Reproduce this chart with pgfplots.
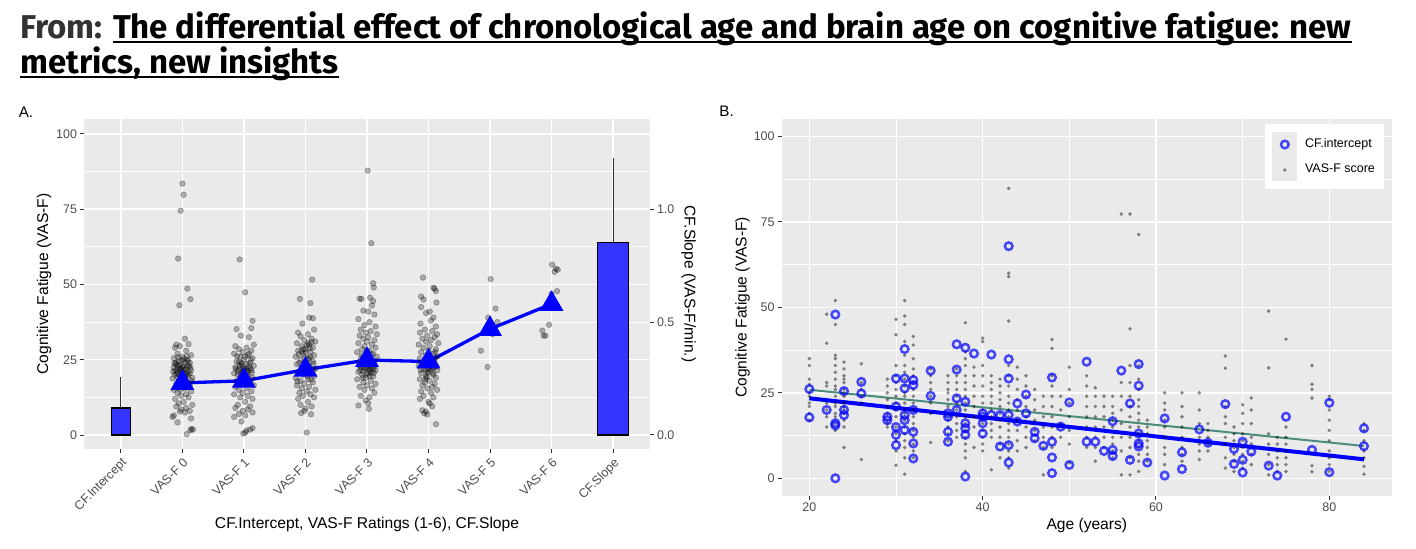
\documentclass[border=0pt]{standalone}
\usepackage{fontspec}
\setmainfont{Liberation Sans}
\newfontfamily\titlefont{Fira Sans}
\usepackage{pgfplots}
\pgfplotsset{compat=1.18}
\definecolor{panelbg}{HTML}{EAEAEA}
\definecolor{ticklab}{HTML}{4D4D4D}
\definecolor{tickcol}{HTML}{333333}
\definecolor{barblue}{HTML}{3535FF}
\definecolor{cfblue}{HTML}{0000FF}
\definecolor{tealline}{HTML}{4A8C80}
\definecolor{fromgray}{HTML}{333333}
\newsavebox\ulbox
\newcommand\ul[1]{\sbox\ulbox{#1}\rlap{\rule[-2.4pt]{\wd\ulbox}{1.2pt}}\usebox\ulbox}
\pgfplotsset{
  gg/.style={
    scale only axis, anchor=south west,
    axis background/.style={fill=panelbg},
    axis line style={draw=none},
    grid=both,
    major grid style={white, line width=0.75pt},
    minor grid style={white, line width=0.4pt},
    tick align=outside,
    major tick length=2pt,
    minor tick length=0pt,
    tick style={tickcol, line width=0.5pt},
    tick label style={font=\fontsize{6.25}{7}\selectfont, text=ticklab, inner sep=1.3pt},
    /pgf/number format/assume math mode=true,
    tick pos=left,
  },
  dotA/.style={only marks, mark=*, mark size=1.4pt, mark options={fill=black, fill opacity=0.28, draw=black, draw opacity=0.3, line width=0.3pt}},
  dotB/.style={only marks, mark=*, mark size=0.9pt, mark options={fill=black, fill opacity=0.45, draw=black, draw opacity=0.1, line width=0.2pt}},
}
\begin{document}
\begin{tikzpicture}
\useasboundingbox (0pt,0pt) rectangle (708pt,-274.5pt);
% title
\node[anchor=base west, inner sep=0pt, font=\titlefont\bfseries\fontsize{16.5}{18}\selectfont] at (10pt,-19.15pt)
  {\textcolor{fromgray}{From:} \ul{The differential effect of chronological age and brain age on cognitive fatigue: new}};
\node[anchor=base west, inner sep=0pt, font=\titlefont\bfseries\fontsize{16.5}{18}\selectfont] at (10pt,-36.6pt)
  {\ul{metrics, new insights}};
\node[anchor=base west, inner sep=0pt, font=\fontsize{7.6}{8}\selectfont] at (9.2pt,-58.6pt) {A.};
\node[anchor=base west, inner sep=0pt, font=\fontsize{7.6}{8}\selectfont] at (359.5pt,-58.3pt) {B.};

% ---------------- Panel A ----------------
\begin{axis}[gg, at={(42pt,-224.5pt)}, width=283pt, height=165pt,
  xmin=-0.6, xmax=8.6, ymin=-4.65, ymax=104.95,
  xtick={0,1,2,3,4,5,6,7,8},
  xticklabels={CF.Intercept,VAS-F 0,VAS-F 1,VAS-F 2,VAS-F 3,VAS-F 4,VAS-F 5,VAS-F 6,CF.Slope},
  minor xtick={},
  ytick={0,25,50,75,100}, minor ytick={12.5,37.5,62.5,87.5},
  xticklabel style={rotate=45, anchor=north east},
  ]
\addplot[ybar, bar width=0.3, bar shift=0pt, fill=barblue, draw=black, line width=0.6pt] coordinates {(0,9.0)};
\addplot[tickcol, line width=0.5pt] coordinates {(0,9.0)(0,19.1)};
% VAS-F 0
\addplot[dotA] coordinates {
(1.00,83.5)(1.02,79.8)(0.97,74.5)(0.93,58.6)(1.08,48.6)(1.13,45.1)(0.95,43.1)
(1.04,32)(0.90,30)(0.96,29.5)(1.10,30.2)(0.88,29)(1.06,28)(0.92,27)(1.14,26.5)(1.00,26)(0.86,25.5)(1.08,25)(0.94,24.5)(1.12,24)(0.90,23.5)(1.02,23)(0.86,22.5)(1.06,22)(0.96,21.8)(1.14,21.5)(0.92,21)(1.04,20.5)(0.88,20)(1.10,19.8)(0.98,19.5)(1.16,19)(0.84,18.8)(1.02,18.5)(0.94,18)(1.08,17.5)(0.90,17)(1.12,16.5)(0.96,16)(1.04,15.5)(0.86,15)(1.14,14.5)(0.92,14)(1.06,13.5)(0.98,13)(1.10,12.5)(0.88,12)(1.02,11)(0.94,10.5)(1.16,10)(0.90,9.5)(1.06,9)(0.98,8.5)(1.12,8)(0.96,7.8)(1.04,7.5)(0.86,6.5)(0.84,6)(1.14,5.5)(0.92,4.2)(1.15,2)(1.13,1.6)(1.17,1.8)(1.07,0.3)(0.92,22)(1.00,22.5)(1.08,21)(0.95,20)(1.03,19)(0.89,24)(1.11,23)(0.99,24.8)(0.93,25.8)(1.07,26.2)(1.01,17)(0.97,15)
(0.88,21.5)(1.12,20.5)(0.96,23.2)(1.04,24.2)(1.00,20.8)(0.92,19.2)(1.08,22.8)(0.98,21.2)(1.02,25.2)(0.94,16.8)
(0.87,23.8)(1.13,22.4)(0.91,20.4)(1.05,19.2)(0.97,22.2)(1.09,24.6)(0.85,21)(1.15,18)(0.99,18.2)(1.03,21.6)(0.93,23)(1.07,20)};
% VAS-F 1
\addplot[dotA] coordinates {
(1.93,58.3)(2.02,47.4)(2.14,37.9)(2.12,35.5)(1.88,35.2)(1.95,33)(2.08,32.5)(2.16,30)(1.86,29.5)(2.04,29)(1.92,28.5)(2.12,28)(1.98,27.5)(1.84,27)(2.06,26.5)(1.94,26)(2.14,25.5)(2.00,25)(1.88,24.5)(2.10,24)(1.96,23.5)(2.16,23)(1.86,22.5)(2.04,22)(1.92,21.8)(2.12,21.5)(1.98,21)(1.84,20.5)(2.06,20)(1.94,19.5)(2.14,19)(2.00,18.5)(1.88,18)(2.10,17.5)(1.96,17)(2.16,16.5)(1.86,16)(2.04,15.5)(1.92,15)(2.12,14.5)(1.98,14)(1.84,13.5)(2.06,13)(1.94,12.5)(2.14,12)(2.02,11)(1.90,10)(2.10,9.5)(1.86,9)(2.06,8.5)(1.98,8)(2.14,7.5)(1.92,7)(2.02,6.5)(1.84,6)(1.96,4.5)(2.14,2.3)(2.10,1.8)(2.04,1.5)(2.02,0.8)(1.99,0.5)(2.00,22)(2.08,23)(1.96,24)(2.04,21)(1.90,20)(2.02,26)(2.08,27)(1.98,19)
(1.90,21.2)(2.10,22.2)(1.96,20.6)(2.04,23.6)(2.00,21.6)(1.92,24.2)(2.06,19.4)(1.98,22.6)
(1.87,22)(2.13,20.8)(1.93,23)(2.07,21.4)(2.01,20.2)(1.95,18.8)(2.11,25)(1.89,26.2)};
% VAS-F 2
\addplot[dotA] coordinates {
(3.11,51.6)(2.91,45.2)(3.08,43.8)(3.06,39)(3.12,38.8)(2.95,37)(3.14,35)(2.88,34)(3.04,33.5)(2.92,32.8)(3.10,32)(2.98,31.5)(3.16,31)(2.86,30.5)(3.06,30)(2.94,29.5)(3.12,29)(3.00,28.5)(2.88,28)(3.08,27.5)(2.96,27)(3.14,26.5)(2.84,26)(3.04,25.5)(2.92,25)(3.12,24.5)(2.98,24)(2.86,23.5)(3.06,23)(2.94,22.5)(3.16,22)(3.00,21.5)(2.88,21)(3.10,20.5)(2.96,20)(3.14,19.5)(2.84,19)(3.04,18.5)(2.92,18)(3.12,17.5)(2.98,17)(2.86,16.5)(3.06,16)(2.94,15.5)(3.16,15)(3.02,14.5)(2.90,14)(3.08,13.5)(2.96,13)(3.14,12.5)(2.88,12)(3.04,11)(2.92,10)(3.10,9.5)(3.00,8.8)(2.93,7.3)(3.09,6.9)(2.98,8)(3.02,0.8)(3.00,27.5)(3.08,26)(2.96,28.5)(3.04,30.5)(2.90,24)
(3.02,29.8)(3.10,30.8)(2.94,27.8)(3.06,25.2)(2.98,22.8)(3.12,21.2)
(2.89,26.8)(3.07,28.8)(2.99,25.8)(3.13,23.6)(2.93,21.8)(3.03,19.6)(2.87,17.8)(3.09,18.4)};
% VAS-F 3
\addplot[dotA] coordinates {
(4.01,87.8)(4.07,63.7)(4.10,50.4)(4.11,49)(3.88,45.3)(3.91,45.2)(4.05,45.6)(4.10,44.5)(4.08,43)(3.94,41.3)(4.02,41)(4.12,40)(3.86,38.5)(4.04,37.5)(3.96,36.5)(4.14,36)(3.90,35)(4.06,34.5)(3.98,34)(4.16,33.5)(3.88,33)(4.02,32.5)(3.94,32)(4.12,31.5)(4.00,31)(3.86,30.5)(4.08,30)(3.96,29.5)(4.14,29)(3.92,28.5)(4.04,28)(3.84,27.5)(4.10,27)(3.98,26.5)(4.16,26)(3.90,25.5)(4.06,25)(3.94,24.5)(4.12,24)(4.00,23.5)(3.88,23)(4.08,22.5)(3.96,22)(4.14,21.5)(3.86,21)(4.02,20.5)(3.92,20)(4.10,19.5)(3.98,19)(3.84,18.5)(4.06,18)(3.94,17.5)(4.14,17)(4.00,16.5)(3.88,16)(4.08,15.5)(3.96,15)(4.12,14)(3.90,13)(4.04,12.5)(3.98,11.5)(4.02,10.5)(3.86,9.8)(4.03,8.7)(4.00,22.5)(3.96,23.5)(4.04,21.5)(4.08,24.5)(3.92,26.5)(4.00,28)
(3.94,21.2)(4.06,20.8)(3.98,22.2)(4.02,23.2)(3.90,22.6)(4.10,21.8)(4.00,20.2)(4.04,19.6)
(3.87,24.2)(4.13,23)(3.93,19)(4.07,26.8)(3.99,25.2)(4.11,20.6)(3.89,21.6)(4.05,22)};
% VAS-F 4
\addplot[dotA] coordinates {
(4.91,52.3)(5.08,48.9)(5.10,48.6)(5.12,47.8)(4.88,46)(4.92,45)(5.13,44)(4.88,42.5)(5.02,41)(4.96,40.5)(5.08,39)(5.04,38)(4.87,37)(5.12,36)(4.94,35)(5.06,34.5)(4.86,34)(5.14,33.5)(4.98,33)(5.10,32.5)(4.90,32)(5.04,31.5)(4.96,31)(5.16,30.5)(4.84,30)(5.02,29.5)(4.92,29)(5.12,28.5)(5.00,28)(4.88,27.5)(5.08,27)(4.96,26.5)(5.14,26)(4.86,25.5)(5.04,25)(4.94,24.5)(5.10,24)(4.98,23.5)(4.84,23)(5.06,22.5)(4.92,22)(5.14,21.5)(5.00,21)(4.88,20.5)(5.08,20)(4.96,19.5)(5.12,19)(4.86,18.5)(5.02,18)(4.94,17.5)(5.10,17)(4.90,16.5)(5.06,16)(4.98,15.5)(5.14,15)(4.88,14.5)(5.04,14)(4.92,13)(5.08,12.5)(4.86,12)(5.00,11)(5.02,10.5)(5.06,9.5)(4.90,8.2)(4.96,7.8)(4.93,7.2)(4.98,6.8)(5.12,3.6)(5.00,22)(4.96,21.5)(5.04,23)(5.00,24.5)
(4.92,23.6)(5.08,22.2)(4.98,20.6)(5.04,21.8)(4.94,24.8)(5.10,25.4)
(4.87,21.6)(5.13,22.8)(4.95,18.6)(5.07,20.4)(5.01,26.2)(4.89,24)(5.11,27.6)(4.97,19.2)};
% VAS-F 5
\addplot[dotA] coordinates {(6.01,51.8)(6.09,42)(5.97,39)(6.12,37.5)(5.96,35)(6.04,33.5)(5.85,28)(5.96,22.6)};
% VAS-F 6
\addplot[dotA] coordinates {(7.01,56.6)(7.07,55.2)(7.10,54.9)(7.05,54.2)(7.09,47.8)(7.00,46.9)(6.96,36.6)(6.85,34.7)(6.90,33)(6.87,33)};
% means
\addplot[cfblue, line width=1.65pt, mark=triangle*, mark size=5.2pt, mark options={solid, fill=cfblue, draw=none}]
  coordinates {(1,17.3)(2,18.0)(3,21.7)(4,24.9)(5,24.4)(6,35.2)(7,43.5)};
\end{axis}
% secondary axis (CF.Slope)
\begin{axis}[scale only axis, anchor=south west, at={(42pt,-224.5pt)}, width=283pt, height=165pt,
  xmin=-0.6, xmax=8.6, ymin=-0.062, ymax=1.39933,
  hide x axis, axis line style={draw=none},
  ytick={0,0.5,1}, yticklabels={0.0,0.5,1.0},
  ytick pos=right, yticklabel pos=right,
  tick align=outside, major tick length=2pt,
  tick style={tickcol, line width=0.5pt},
  tick label style={font=\fontsize{6.25}{7}\selectfont, text=ticklab, inner sep=1.3pt},
  /pgf/number format/assume math mode=true,
  ]
\addplot[ybar, bar width=0.5, bar shift=0pt, fill=barblue, draw=black, line width=0.6pt] coordinates {(8,0.853)};
\addplot[tickcol, line width=0.5pt] coordinates {(8,0.853)(8,1.227)};
\end{axis}
\node[rotate=90, font=\fontsize{7.8}{9}\selectfont] at (22pt,-142pt) {Cognitive Fatigue (VAS-F)};
\node[rotate=-90, font=\fontsize{7.8}{9}\selectfont] at (344.3pt,-142pt) {CF.Slope (VAS-F/min.)};
\node[font=\fontsize{7.8}{9}\selectfont] at (183.5pt,-262pt) {CF.Intercept, VAS-F Ratings (1-6), CF.Slope};

% ---------------- Panel B ----------------
\begin{axis}[gg, at={(390.8pt,-247.85pt)}, width=305.05pt, height=188.35pt,
  xmin=16.8, xmax=87.2, ymin=-5.09, ymax=105.1,
  xtick={20,40,60,80}, minor xtick={30,50,70},
  ytick={0,25,50,75,100}, minor ytick={12.5,37.5,62.5,87.5},
  legend style={at={(rel axis cs:0.8043,0.9663)}, anchor=north west, draw=none, fill=none,
    inner sep=0pt, outer sep=0pt, row sep=0pt,
    nodes={inner sep=0pt, font=\fontsize{6.25}{7}\selectfont},
    /tikz/every odd column/.append style={column sep=3.85pt}},
  legend cell align=left,
  legend image code/.code={\path[draw=none,fill=none] (0pt,-6.4pt) rectangle (12.5pt,6.4pt); \draw[#1] plot coordinates {(6.25pt,0pt)};},
  ]
% VAS-F score dots
\addplot[forget plot, dotB] coordinates {
(20,35)(20,33)(20,29)(20,27.5)(20,25)(20,24)(20,22)(20,21)(20,19)(20,17)
(22,48)(22,39.5)(22,28)(22,27)(22,22)(22,20)(22,18)(22,15)
(23,52)(23,45)(23,36)(23,35)(23,33)(23,31)(23,29)(23,27)(23,26)(23,24)(23,22)(23,21)(23,19)(23,18)(23,16)(23,14)
(24,34)(24,32)(24,30)(24,29)(24,28)(24,26)(24,25)(24,24)(24,22)(24,21)(24,20)(24,19)(24,17)(24,15)(24,9)
(26,33.5)(26,28)(26,26)(26,24)(26,22)(26,5.5)
(29,29)(29,27)(29,25)(29,23)(29,21)(29,19)(29,17)(29,16)(29,15)
(30,46.5)(30,42)(30,33)(30,30)(30,28)(30,26)(30,24)(30,22)(30,20)(30,18)(30,15)(30,13)(30,11)(30,8)(30,3.8)
(31,52)(31,47.5)(31,45)(31,40)(31,36)(31,33)(31,31)(31,29)(31,27)(31,25)(31,24)(31,22)(31,20)(31,19)(31,17)(31,15)(31,13)(31,11)(31,9)(31,6)(31,1.2)
(32,41.5)(32,39)(32,35)(32,32)(32,30)(32,28)(32,26)(32,24)(32,22)(32,20)(32,18)(32,16)(32,14)(32,12)(32,10)(32,8)(32,6)
(34,32)(34,30)(34,28)(34,26)(34,24)(34,22)(34,19)(34,10.5)
(36,30)(36,28)(36,26)(36,25)(36,23)(36,21)(36,19)(36,17)(36,15)(36,13)(36,11)
(37,32)(37,30)(37,28)(37,26)(37,24)(37,22)(37,20)(37,18)(37,16)(37,14)(37,12)
(38,45.5)(38,37)(38,35)(38,33)(38,30)(38,28)(38,26)(38,24)(38,22)(38,20)(38,18)(38,16)(38,14)(38,12)(38,10)(38,8)(38,6)(38,2)
(39,32.5)(39,30)(39,27)(39,24)(39,21)(39,18)(39,15)(39,9)
(40,41)(40,40)(40,33)(40,30)(40,27)(40,24)(40,22)(40,20)(40,18)(40,16)(40,14)(40,12)(40,10)(40,8)
(41,30)(41,28)(41,26)(41,24)(41,22)(41,20)(41,18)(41,16)(41,14)(41,12)(41,2.5)
(42,29)(42,27)(42,25)(42,23)(42,21)(42,19)(42,17)(42,15)(42,12)(42,10)(42,6)
(43,84.8)(43,60)(43,59)(43,46)(43,33)(43,30)(43,27)(43,24)(43,22)(43,20)(43,18)(43,16)(43,14)(43,12)(43,10)(43,8)(43,6)(43,3)
(44,32.5)(44,29)(44,26)(44,23)(44,20)(44,17)(44,14)(44,11)(44,8)
(45,30)(45,27)(45,24)(45,21)(45,18)(45,15)(45,12)(45,9)
(46,26)(46,23)(46,20)(46,17)(46,14)(46,11)
(47,24)(47,21)(47,18)(47,15)(47,12)(47,9)(47,1)
(48,40.6)(48,38)(48,30)(48,27)(48,24)(48,21)(48,18)(48,15)(48,12)(48,9)
(49,24)(49,20)(49,16)(49,12)
(50,32.5)(50,26)(50,22)(50,18)(50,14)(50,10)(50,4.5)
(52,30)(52,27)(52,24)(52,21)(52,18)(52,15)(52,12)(52,9)
(53,26.5)(53,24)(53,21)(53,18)(53,15)(53,12)(53,9)(53,5)
(54,24)(54,21)(54,18)(54,15)(54,12)(54,9)
(55,24)(55,21)(55,19)(55,17)(55,15)(55,12)(55,10)(55,8)(55,6)
(56,77.3)(56,28)(56,24)(56,20)(56,16)(56,12)(56,8)(56,1)
(57,77.3)(57,43.7)(57,33)(57,28)(57,24)(57,21)(57,18)(57,15)(57,12)(57,9)(57,6)(57,1)
(58,71.3)(58,33)(58,29)(58,26)(58,23)(58,21)(58,19)(58,17)(58,15)(58,13)(58,11)(58,9)(58,7)(58,5)(58,2)
(59,17)(59,15)(59,13)(59,11)(59,9)(59,7)(59,5)
(61,25)(61,22)(61,20)(61,17)(61,15)(61,12)(61,9)(61,7)(61,4)
(63,25)(63,21)(63,18)(63,15)(63,12)(63,9)(63,7)(63,5)
(65,25)(65,20)(65,16)(65,12)(65,10)(65,8)(65,5.5)
(66,16)(66,14)(66,12)(66,10)(66,8)
(68,35.8)(68,32.2)(68,21)(68,18)(68,16)(68,12)(68,10)(68,6)(68,3)
(69,15)(69,13)(69,11)(69,9)(69,7)(69,5)(69,2)
(70,21.5)(70,19)(70,16)(70,13)(70,11)(70,9)(70,7)(70,5)(70,3)
(71,23.5)(71,20)(71,16)(71,12)(71,10)(71,7)(71,4)
(73,48.9)(73,32.3)(73,13)(73,10)(73,7)(73,4)(73,1)
(74,12)(74,10)(74,8)(74,6)(74,4)(74,2)
(75,40.7)(75,15)(75,12)(75,10)(75,8)(75,6)(75,4)(75,2)
(78,33)(78,27.5)(78,26)(78,23.5)(78,3.7)(78,1.9)
(80,24)(80,23)(80,20)(80,17)(80,14)(80,11)(80,8)(80,6)(80,4)(80,2)
(84,16)(84,14)(84,11)(84,8)(84,6)(84,3.5)(84,1.2)};
% CF.intercept circles
\addplot[forget plot, only marks, mark=o, mark size=1.9pt, mark options={draw=cfblue, draw opacity=0.7, line width=1.25pt}] coordinates {
(20,26.1)(20,17.8)(22,20)(23,47.9)(23,0)(23,16.1)(23,15.5)(24,25.5)(24,20)(24,18.5)
(26,28.2)(26,24.8)(29,17)(29,18)(30,29.2)(30,21)(30,15)(30,12.7)(30,9.7)
(31,37.8)(31,29.2)(31,26.3)(31,18.5)(31,17)(31,14.1)
(32,28.7)(32,27.3)(32,20)(32,13.6)(32,10.2)(32,5.8)
(34,31.5)(34,24.1)(36,13.6)(36,10.7)(36,18)(36,19)
(37,39.2)(37,31.8)(37,23.4)(37,20)
(38,38.2)(38,22.4)(38,16.1)(38,14.6)(38,12.7)(38,0.5)
(39,36.5)(40,16.1)(40,18)(40,13.1)(40,19)(41,36.2)(41,18.5)(42,9.3)(42,18.5)
(43,67.9)(43,34.8)(43,29.2)(43,18.5)(43,9.7)(43,4.6)
(44,21.9)(44,16.6)(45,24.5)(45,19)(46,13.6)(46,11.7)(47,9.5)
(48,29.5)(48,10.7)(48,6.1)(48,1.5)(49,15.1)(50,22.2)(50,3.9)
(52,34.1)(52,10.7)(53,10.7)(54,8)(55,16.7)(55,8.3)(55,6.5)(56,31.5)
(57,21.9)(57,5.4)(58,33.4)(58,27.1)(58,13.1)(58,10.2)(58,9.3)(59,4.6)
(61,17.5)(61,0.8)(63,7.6)(63,2.7)(65,14.3)(66,10.4)(68,21.7)(69,8.6)(69,4.2)
(70,5.4)(70,1.7)(70,10.7)(71,7.8)(73,3.7)(74,0.8)(75,18)(78,8.3)(80,22.1)(80,1.8)
(84,14.6)(84,9.4)};
\addplot[forget plot, tealline, line width=1pt] coordinates {(20,25.9)(84,9.45)};
\addplot[forget plot, cfblue, line width=2pt] coordinates {(20,23.4)(84,5.55)};
\fill[white] (rel axis cs:0.7923,0.815) rectangle (rel axis cs:0.9874,0.9867);
\fill[panelbg] (rel axis cs:0.8043,0.8354) rectangle (rel axis cs:0.8453,0.9663);
\addlegendimage{only marks, mark=o, mark size=1.9pt, mark options={draw=cfblue, draw opacity=0.7, line width=1.25pt}}
\addlegendentry{CF.intercept}
\addlegendimage{dotB}
\addlegendentry{VAS-F score}
\end{axis}
\node[rotate=90, font=\fontsize{7.8}{9}\selectfont] at (371.3pt,-153.7pt) {Cognitive Fatigue (VAS-F)};
\node[font=\fontsize{7.8}{9}\selectfont] at (543.4pt,-262.5pt) {Age (years)};
\end{tikzpicture}
\end{document}
